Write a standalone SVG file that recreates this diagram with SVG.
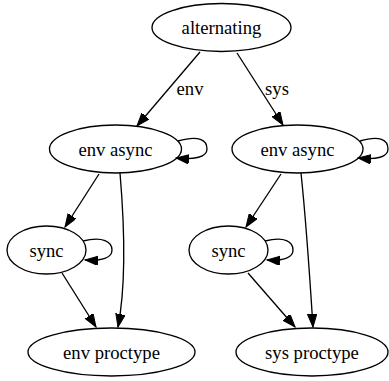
<svg xmlns="http://www.w3.org/2000/svg" width="389" height="381" viewBox="0 0 389 381">
<style>
.n ellipse{fill:none;stroke:#000;stroke-width:1.33}
text{font-family:"Liberation Serif","Times New Roman",serif;font-size:18.67px;fill:#000;text-anchor:middle}
.e path{fill:none;stroke:#000;stroke-width:1.33;marker-end:url(#a)}
</style>
<defs>
<marker id="a" markerUnits="userSpaceOnUse" markerWidth="14" markerHeight="10" refX="13" refY="4.7" orient="auto">
<path d="M0,0 L13,4.7 L0,9.4 z" fill="#000" stroke="#000" stroke-width="1"/>
</marker>
</defs>
<rect width="389" height="381" fill="#fff"/>
<g id="edges" class="e">
<path d="M200,52 L137,126"/>
<path d="M237,53 L283,125"/>
<path d="M178,141 C199,135 207,140 207,149 C207,157 195,160 176,158"/>
<path d="M360,141 C380,135 388,140 388,149 C388,157 377,160 358,158"/>
<path d="M99,174 L65,227"/>
<path d="M120,173 C124,220 127,280 118,327"/>
<path d="M83,241 C103,236 112,242 112,250 C112,258 102,261 85,260"/>
<path d="M62,273 L96,327"/>
<path d="M281,174 L246,227"/>
<path d="M301,173 C306,220 310,280 313,327"/>
<path d="M265,241 C285,236 293,242 293,250 C293,258 283,261 267,260"/>
<path d="M248,273 L295,327"/>
<text x="190" y="95">env</text>
<text x="277" y="95">sys</text>
</g>
<g id="alternating" class="n"><ellipse cx="221.5" cy="27.5" rx="69.5" ry="24"/><text x="221.5" y="34">alternating</text></g>
<g id="env_async_l" class="n"><ellipse cx="115.5" cy="149" rx="66" ry="24"/><text x="115.5" y="155.5">env async</text></g>
<g id="env_async_r" class="n"><ellipse cx="297.5" cy="149" rx="65.5" ry="24"/><text x="297.5" y="155.5">env async</text></g>
<g id="sync_l" class="n"><ellipse cx="46.5" cy="250" rx="39.5" ry="24"/><text x="46.5" y="256.5">sync</text></g>
<g id="sync_r" class="n"><ellipse cx="228.5" cy="250" rx="39.5" ry="24"/><text x="228.5" y="256.5">sync</text></g>
<g id="env_proctype" class="n"><ellipse cx="111.5" cy="352" rx="83.5" ry="24"/><text x="111.5" y="358.5">env proctype</text></g>
<g id="sys_proctype" class="n"><ellipse cx="312" cy="352" rx="76" ry="24"/><text x="312" y="358.5">sys proctype</text></g>
</svg>
